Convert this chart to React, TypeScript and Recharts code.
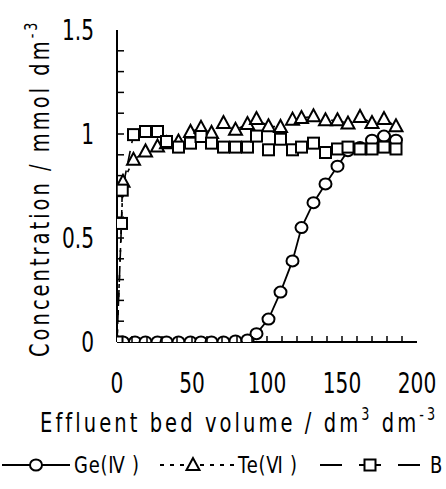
import React from "react";
import { LineChart, Line, XAxis, YAxis, Customized } from "recharts";

// bed volume (dm3/dm3) and concentration (mmol/dm3)
const geX = [4, 12, 19, 27, 33, 41, 49, 56, 63, 71, 79, 87, 93, 101, 109, 117, 123, 131, 139, 147, 154, 162, 170, 178, 186];
const geY = [0, 0, 0, 0, 0, 0, 0, 0, 0, 0, 0.005, 0.01, 0.04, 0.11, 0.24, 0.39, 0.55, 0.67, 0.76, 0.845, 0.92, 0.935, 0.97, 0.99, 0.97];

const teX = [0, 4, 11, 19, 27, 33, 41, 49, 56, 63, 71, 79, 87, 93, 101, 109, 117, 123, 131, 139, 147, 154, 162, 170, 178, 186];
const teY = [0, 0.77, 0.876, 0.916, 0.94, 0.955, 0.964, 1.01, 1.03, 1.005, 1.053, 1.02, 1.048, 1.072, 1.037, 1.034, 1.069, 1.077, 1.085, 1.066, 1.066, 1.05, 1.082, 1.053, 1.072, 1.037];

const bX = [0, 3, 3.5, 11, 19, 27, 33, 41, 49, 56, 63, 71, 79, 87, 93, 101, 109, 117, 123, 131, 139, 147, 154, 162, 170, 178, 186];
const bY = [0, 0.57, 0.73, 0.997, 1.012, 1.012, 0.964, 0.937, 0.956, 0.988, 0.956, 0.937, 0.937, 0.937, 0.99, 0.924, 0.975, 0.924, 0.937, 0.956, 0.911, 0.928, 0.937, 0.928, 0.928, 0.937, 0.928];

const xTicks = [0, 10, 20, 30, 40, 50, 60, 70, 80, 90, 100, 110, 120, 130, 140, 150, 160, 170, 180, 190, 200];
const xLabels = [0, 50, 100, 150, 200];
const yTicks = [0, 0.1, 0.2, 0.3, 0.4, 0.5, 0.6, 0.7, 0.8, 0.9, 1, 1.1, 1.2, 1.3, 1.4, 1.5];
const yLabels = [0, 0.5, 1, 1.5];

const geData = geX.map((x, i) => ({ x, y: geY[i] }));
const teData = teX.map((x, i) => ({ x, y: teY[i] }));
const bData = bX.map((x, i) => ({ x, y: bY[i] }));

const FONT = '"DejaVu Sans", sans-serif';

// the original uses a tall condensed gothic face; squeeze DejaVu horizontally
const Narrow = ({ x, y, sx = 0.72, rotate = 0, anchor = "start", size, spacing = 0, children }: any) => (
  <g transform={`translate(${x},${y}) rotate(${rotate}) scale(${sx},1)`}>
    <text x={0} y={0} textAnchor={anchor} fontFamily={FONT} fontSize={size} letterSpacing={spacing} fill="#000">
      {children}
    </text>
  </g>
);

const circle = (cx: number, cy: number, key?: any) => (
  <ellipse key={key} cx={cx} cy={cy} rx={6} ry={5.5} fill="#fff" stroke="#000" strokeWidth={2} />
);
const triangle = (cx: number, cy: number, key?: any) => (
  <polygon key={key} points={`${cx},${cy - 7} ${cx - 6.5},${cy + 5} ${cx + 6.5},${cy + 5}`} fill="#fff" stroke="#000" strokeWidth={2} />
);
const square = (cx: number, cy: number, key?: any) => (
  <rect key={key} x={cx - 5.5} y={cy - 5.5} width={11} height={11} fill="#fff" stroke="#000" strokeWidth={2} />
);

const XTick = (props: any) => {
  const { x, y, payload } = props;
  const v = payload.value;
  return (
    <g>
      {v > 0 && v < 200 && <line x1={x} x2={x} y1={y} y2={y - 6} stroke="#000" strokeWidth={1.5} />}
      {xLabels.includes(v) && (
        <Narrow x={x} y={y + 51} anchor="middle" size={28}>
          {v}
        </Narrow>
      )}
    </g>
  );
};

const YTick = (props: any) => {
  const { x, y, payload } = props;
  const v = payload.value;
  return (
    <g>
      {v > 0 && v < 1.5 && <line x1={x} x2={x + 7} y1={y} y2={y} stroke="#000" strokeWidth={1.5} />}
      {yLabels.includes(v) && (
        <Narrow x={x - 23} y={y + 10} anchor="end" size={28}>
          {v}
        </Narrow>
      )}
    </g>
  );
};

const Extras = () => (
  <g>
    <Narrow x={40} y={432} size={26} sx={0.75} spacing={4.1}>
      Effluent bed volume / dm
      <tspan fontSize={17} dy={-12}>3</tspan>
      <tspan fontSize={26} dy={12}> dm</tspan>
      <tspan fontSize={17} dy={-12}>-3</tspan>
    </Narrow>
    <Narrow x={49} y={357} rotate={-90} size={26} sx={0.75} spacing={4}>
      Concentration / mmol dm
      <tspan fontSize={17} dy={-12}>-3</tspan>
    </Narrow>
    <line x1={2} x2={70} y1={465} y2={465} stroke="#000" strokeWidth={1.8} />
    {circle(36, 465)}
    <Narrow x={74} y={473} size={23} sx={0.78} spacing={1}>Ge(Ⅳ )</Narrow>
    <line x1={160} x2={234} y1={465} y2={465} stroke="#000" strokeWidth={1.8} strokeDasharray="4 6" />
    {triangle(193, 465)}
    <Narrow x={238} y={473} size={23} sx={0.78} spacing={1}>Te(Ⅵ )</Narrow>
    <line x1={320} x2={420} y1={465} y2={465} stroke="#000" strokeWidth={1.8} strokeDasharray="22 17" />
    {square(370, 465)}
    <Narrow x={430} y={473} size={23} sx={0.78}>B</Narrow>
  </g>
);

export default function App() {
  return (
    <div style={{ position: "absolute", left: 0, top: 0, background: "#fff" }}>
      <LineChart width={446} height={489} margin={{ top: 30, right: 29, left: 0, bottom: 0 }}>
        <XAxis
          dataKey="x"
          type="number"
          domain={[0, 200]}
          ticks={xTicks}
          interval={0}
          height={147}
          tickSize={0}
          tickMargin={0}
          tickLine={false}
          axisLine={{ stroke: "#000", strokeWidth: 2 }}
          tick={<XTick />}
          allowDataOverflow
        />
        <XAxis xAxisId="top" orientation="top" type="number" domain={[0, 200]} height={0} tick={false} tickLine={false} axisLine={{ stroke: "#000", strokeWidth: 2 }} />
        <YAxis
          type="number"
          domain={[0, 1.5]}
          ticks={yTicks}
          interval={0}
          width={117}
          tickSize={0}
          tickMargin={0}
          tickLine={false}
          axisLine={{ stroke: "#000", strokeWidth: 2 }}
          tick={<YTick />}
          allowDataOverflow
        />
        <YAxis yAxisId="right" orientation="right" type="number" domain={[0, 1.5]} width={0} tick={false} tickLine={false} axisLine={{ stroke: "#000", strokeWidth: 2 }} />
        <Line
          data={teData}
          dataKey="y"
          type="linear"
          stroke="#000"
          strokeWidth={1.6}
          strokeDasharray="4 5"
          dot={(p: any) => triangle(p.cx, p.cy, `t${p.index}`)}
          isAnimationActive={false}
        />
        <Line
          data={geData}
          dataKey="y"
          type="linear"
          stroke="#000"
          strokeWidth={1.8}
          dot={(p: any) => circle(p.cx, p.cy, `g${p.index}`)}
          isAnimationActive={false}
        />
        <Line
          data={bData}
          dataKey="y"
          type="linear"
          stroke="#000"
          strokeWidth={1.6}
          strokeDasharray="12 8"
          dot={(p: any) => square(p.cx, p.cy, `b${p.index}`)}
          isAnimationActive={false}
        />
        <Customized component={Extras} />
      </LineChart>
    </div>
  );
}
